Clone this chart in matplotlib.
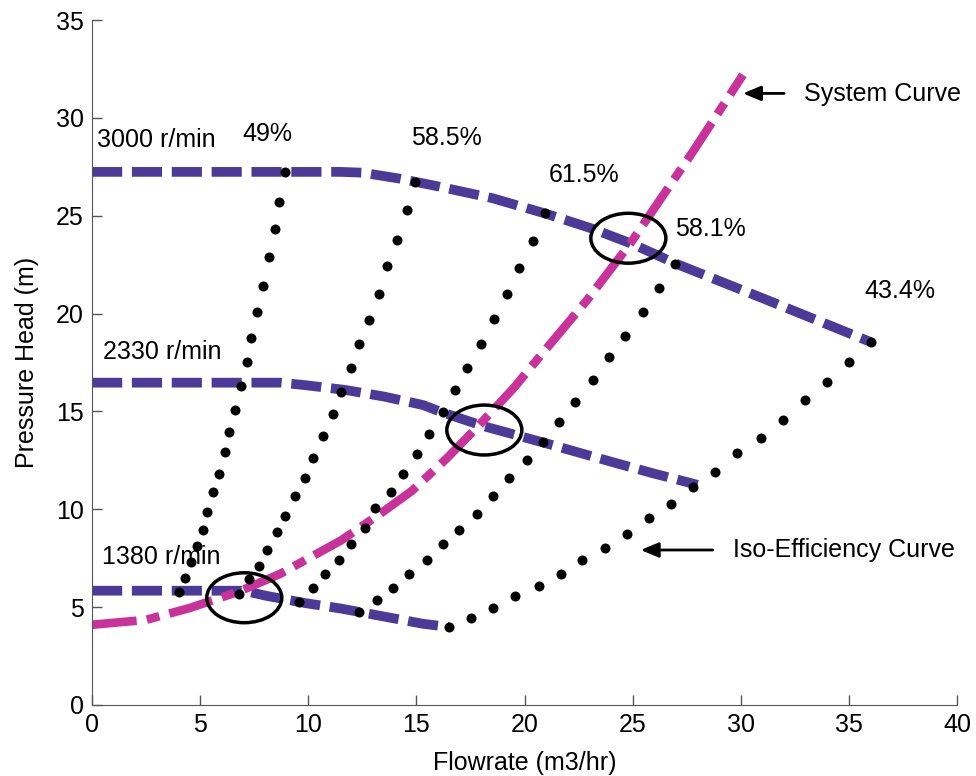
import matplotlib.pyplot as plt
from matplotlib.patches import Ellipse

plt.rcParams['font.family'] = ['Liberation Sans', 'DejaVu Sans']
plt.rcParams['font.size'] = 18

# pump head curves at three speeds (flow m3/hr, head m)
q_3000 = [0, 11.5, 12.5, 14.2, 16.0, 18.5, 21.0, 23.1, 25.0, 27.0, 31.2, 36.0]
h_3000 = [27.24, 27.24, 27.2, 26.9, 26.5, 25.9, 25.1, 24.35, 23.55, 22.55, 20.7, 18.55]
q_2330 = [0, 8.7, 9.8, 11.7, 13.5, 15.3, 16.2, 18.1, 20.9, 24.1, 25.9, 28.0]
h_2330 = [16.47, 16.47, 16.35, 16.1, 15.76, 15.33, 14.95, 14.25, 13.4, 12.4, 11.85, 11.25]
q_1380 = [0, 7.0, 8.05, 9.9, 11.5, 13.5, 15.3, 16.5]
h_1380 = [5.84, 5.84, 5.58, 5.2, 4.93, 4.52, 4.15, 3.99]

# system curve
q_sys = [0, 2.5, 4.5, 6.8, 8.7, 11.5, 13.3, 14.8, 16.4, 17.9, 19.5, 21.0, 22.9, 24.9, 27.8, 30.1]
h_sys = [4.1, 4.35, 4.95, 5.8, 6.7, 8.4, 9.75, 10.95, 12.6, 14.3, 16.2, 18.2, 20.7, 23.6, 28.3, 32.2]

# iso-efficiency points
q_49 = [4.02, 4.30, 4.58, 4.86, 5.13, 5.32, 5.60, 5.87, 6.15, 6.34,
        6.61, 6.89, 7.17, 7.35, 7.62, 7.89, 8.19, 8.46, 8.65, 8.92]
h_49 = [5.77, 6.49, 7.32, 8.14, 8.96, 9.86, 10.88, 11.80, 12.93, 13.97,
        15.09, 16.32, 17.53, 18.77, 20.08, 21.43, 22.88, 24.31, 25.72, 27.25]
q_585 = [6.80, 7.26, 7.72, 8.09, 8.55, 8.92, 9.39, 9.85, 10.22, 10.68,
         11.14, 11.51, 11.98, 12.35, 12.81, 13.27, 13.64, 14.10, 14.57, 14.94]
h_585 = [5.67, 6.44, 7.10, 7.92, 8.84, 9.66, 10.68, 11.60, 12.62, 13.75,
         14.87, 15.99, 17.22, 18.45, 19.67, 21.00, 22.43, 23.76, 25.29, 26.72]
q_615 = [9.57, 10.22, 10.77, 11.42, 11.98, 12.62, 13.09, 13.83, 14.38, 15.03,
         15.58, 16.23, 16.79, 17.34, 17.99, 18.59, 19.18, 19.75, 20.39, 20.95]
h_615 = [5.26, 5.98, 6.69, 7.41, 8.23, 9.05, 10.07, 10.88, 11.80, 12.83,
         13.85, 14.97, 16.10, 17.22, 18.45, 19.72, 21.00, 22.35, 23.71, 25.13]
q_581 = [12.35, 13.18, 13.92, 14.66, 15.49, 16.23, 16.97, 17.80, 18.54, 19.28,
         20.12, 20.86, 21.60, 22.34, 23.17, 23.91, 24.65, 25.48, 26.22, 26.96]
h_581 = [4.75, 5.37, 5.98, 6.69, 7.41, 8.23, 8.94, 9.76, 10.68, 11.60,
         12.52, 13.44, 14.46, 15.48, 16.61, 17.78, 18.86, 20.08, 21.31, 22.53]
q_434 = [16.51, 17.53, 18.54, 19.56, 20.67, 21.69, 22.66, 23.72, 24.74, 25.76,
         26.78, 27.80, 28.81, 29.83, 30.94, 31.95, 32.97, 33.99, 35.01, 36.02]
h_434 = [3.99, 4.45, 4.96, 5.57, 6.08, 6.69, 7.41, 8.02, 8.74, 9.56,
         10.27, 11.14, 11.91, 12.88, 13.64, 14.56, 15.59, 16.50, 17.53, 18.55]

speed_labels = ['3000 r/min', '2330 r/min', '1380 r/min']
speed_pos = [(0.22, 28.85), (0.49, 18.05), (0.45, 7.55)]
eff_labels = ['49%', '58.5%', '61.5%', '58.1%', '43.4%']
eff_pos = [(6.93, 29.2), (14.75, 28.95), (21.1, 27.1), (26.96, 24.3), (35.7, 21.15)]
# operating points (pump curve meets system curve)
op_q = [24.8, 18.14, 7.04]
op_h = [23.85, 14.05, 5.48]

purple = '#4b3a97'
magenta = '#c8329a'

fig = plt.figure(figsize=(9.76, 7.76), dpi=100)
ax = fig.add_axes([0.0943, 0.0915, 0.8863, 0.8827])

for q, h in [(q_3000, h_3000), (q_2330, h_2330), (q_1380, h_1380)]:
    ax.plot(q, h, color=purple, lw=7, linestyle=(0, (3.1, 1.0)),
            dash_capstyle='butt')

ax.plot(q_sys, h_sys, color=magenta, lw=6.2, linestyle=(0, (5.2, 1.2, 1.5, 1.2)),
        dash_capstyle='butt')

for q, h in [(q_49, h_49), (q_585, h_585), (q_615, h_615), (q_581, h_581), (q_434, h_434)]:
    ax.plot(q, h, 'o', color='black', ms=7.2, mec='none', zorder=4)

for q, h in zip(op_q, op_h):
    ax.add_patch(Ellipse((q, h), 3.47, 2.55, fill=False, ec='black', lw=2.5, zorder=5))

for txt, (x, y) in zip(speed_labels, speed_pos):
    ax.text(x, y, txt, va='center', ha='left')
for txt, (x, y) in zip(eff_labels, eff_pos):
    ax.text(x, y, txt, va='center', ha='left')

arrow = dict(arrowstyle='-|>,head_length=0.6,head_width=0.25', lw=2, color='black',
             mutation_scale=18, shrinkA=0, shrinkB=0)
ax.annotate('', xy=(30.1, 31.25), xytext=(32.0, 31.25), arrowprops=arrow)
ax.text(32.9, 31.2, 'System Curve', va='center', ha='left')
ax.annotate('', xy=(25.37, 7.92), xytext=(28.7, 7.92), arrowprops=arrow)
ax.text(29.63, 7.92, 'Iso-Efficiency Curve', va='center', ha='left')

ax.set_xlim(0, 40)
ax.set_ylim(0, 35)
ax.set_xticks(range(0, 41, 5))
ax.set_yticks(range(0, 36, 5))
ax.spines['top'].set_visible(False)
ax.spines['right'].set_visible(False)
for s in ['left', 'bottom']:
    ax.spines[s].set_color('#555555')
ax.tick_params(direction='in', length=7, width=1, color='#555555', pad=6)
ax.set_xlabel('Flowrate (m3/hr)', labelpad=10)
ax.set_ylabel('Pressure Head (m)', labelpad=12)

fig.savefig('out.png', dpi=100)
